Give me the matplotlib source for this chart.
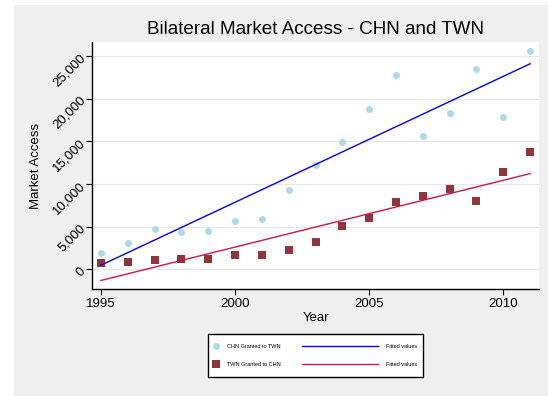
import numpy as np
import matplotlib
matplotlib.use("Agg")
import matplotlib.pyplot as plt
from matplotlib.lines import Line2D
from matplotlib.patches import Rectangle
from matplotlib.ticker import FuncFormatter

plt.rcParams['font.family'] = ['Liberation Sans', 'DejaVu Sans']

# Bilateral market access by year
years = [1995, 1996, 1997, 1998, 1999, 2000, 2001, 2002, 2003,
         2004, 2005, 2006, 2007, 2008, 2009, 2010, 2011]
chn_to_twn = [1875, 3047, 4758, 4372, 4454, 5696, 5860, 9294, 12224,
              14955, 18787, 22737, 15623, 18318, 23440, 17814, 25585]
twn_to_chn = [738, 856, 1125, 1242, 1242, 1676, 1676, 2262, 3235,
              5110, 6048, 7888, 8591, 9376, 8005, 11404, 13748]

x_ticks = [1995, 2000, 2005, 2010]
y_ticks = [0, 5000, 10000, 15000, 20000, 25000]

W, H = 548, 396
fig = plt.figure(figsize=(W / 100, H / 100), dpi=100)
fig.patch.set_facecolor('white')
fig.add_artist(Rectangle((14 / W, 0), 1, 1 - 5 / H, transform=fig.transFigure,
                         facecolor='#efefef', edgecolor='none', zorder=-10))

ax = fig.add_axes([92.3 / W, 1 - 289.3 / H, (539 - 92.3) / W, (289.3 - 42.3) / H])
ax.set_facecolor('white')

c_circ = '#add8e6'
c_sq = '#90353b'
c_blue = '#0000ff'
c_red = '#cc1848'

x = np.array(years, dtype=float)
y1 = np.array(chn_to_twn, dtype=float)
y2 = np.array(twn_to_chn, dtype=float)

# Linear fits
b1 = np.polyfit(x, y1, 1)
b2 = np.polyfit(x, y2, 1)
xf = np.array([x.min(), x.max()])

ax.plot(x, y1, 'o', color=c_circ, markersize=5.0, markeredgewidth=0, zorder=3)
ax.plot(xf, np.polyval(b1, xf), color=c_blue, lw=1.0, zorder=4)
ax.plot(x, y2, 's', color=c_sq, markersize=5.4, markeredgewidth=0, zorder=3)
ax.plot(xf, np.polyval(b2, xf), color=c_red, lw=1.0, zorder=4)

ax.set_xlim(1994.68, 2011.33)
ax.set_ylim(-2344, 26606)
ax.set_xticks(x_ticks)
ax.set_yticks(y_ticks)
ax.yaxis.set_major_formatter(FuncFormatter(lambda v, p: f"{int(v):,}"))

ax.grid(axis='y', color='#e6e6e6', lw=0.8, zorder=0)
ax.set_axisbelow(True)
for s in ['top', 'right']:
    ax.spines[s].set_visible(False)
for s in ['left', 'bottom']:
    ax.spines[s].set_linewidth(1.0)
    ax.spines[s].set_color('black')

ax.tick_params(axis='both', direction='out', length=4, width=0.8,
               labelsize=9.5, colors='black')
ax.tick_params(axis='x', pad=2)
ax.tick_params(axis='y', pad=2)
for lab in ax.get_yticklabels():
    lab.set_rotation(45)
    lab.set_rotation_mode('anchor')
    lab.set_ha('right')
    lab.set_va('center')

ax.set_xlabel('Year', fontsize=9.5, labelpad=2)
ax.set_ylabel('Market Access', fontsize=9.5)
ax.yaxis.set_label_coords(-0.113, 0.5)
ax.set_title('Bilateral Market Access - CHN and TWN', fontsize=13.6, pad=6)

# Legend: markers on the left, fitted lines on the right, in one frame
fs = 4.0
fs_px = fs * 100 / 72
ycen = 1 - 355.5 / H
h_pts = [Line2D([], [], ls='none', marker='o', color=c_circ, markersize=5.0, markeredgewidth=0),
         Line2D([], [], ls='none', marker='s', color=c_sq, markersize=5.6, markeredgewidth=0)]
leg1 = fig.legend(h_pts, ['CHN Granted to TWN', 'TWN Granted to CHN'],
                  loc='center left', bbox_to_anchor=(212.7 / W, ycen),
                  frameon=False, fontsize=fs, handlelength=1.2, handletextpad=1.38,
                  borderpad=0, borderaxespad=0, labelspacing=2.3)
h_lines = [Line2D([], [], color=c_blue, lw=1.0), Line2D([], [], color=c_red, lw=1.0)]
leg2 = fig.legend(h_lines, ['Fitted values', 'Fitted values'],
                  loc='center left', bbox_to_anchor=(302 / W, ycen),
                  frameon=False, fontsize=fs, handlelength=13.7, handletextpad=1.44,
                  borderpad=0, borderaxespad=0, labelspacing=2.3)
fig.add_artist(Rectangle((208 / W, 1 - 377 / H), (423 - 208) / W, (377 - 334) / H,
                         transform=fig.transFigure, facecolor='white',
                         edgecolor='black', lw=1.0, zorder=-5))

fig.savefig('out.png', dpi=100)
